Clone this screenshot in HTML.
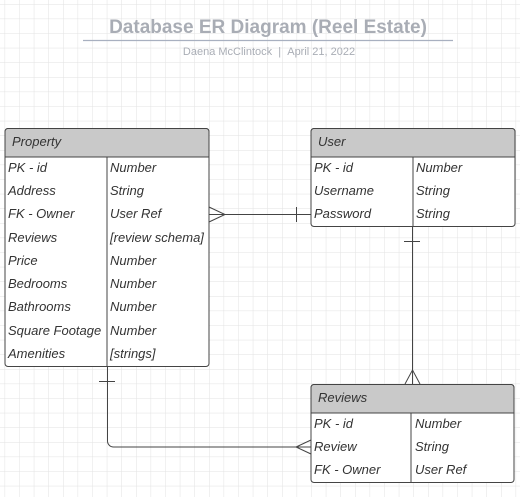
<!DOCTYPE html>
<html><head><style>
body{margin:0;width:520px;height:497px;overflow:hidden;background:#fff;font-family:"Liberation Sans",sans-serif;}
svg text{font-family:"Liberation Sans",sans-serif;}
</style></head><body>
<svg width="520" height="497" viewBox="0 0 520 497" xmlns="http://www.w3.org/2000/svg">
<defs>
<pattern id="g" x="4.6" y="4" width="14.6" height="14.6" patternUnits="userSpaceOnUse">
<path d="M0 0H14.6M0 0V14.6" stroke="#e2e2e2" stroke-width="1" fill="none"/>
</pattern>
</defs>
<rect width="520" height="497" fill="url(#g)"/>
<text x="268" y="33" text-anchor="middle" font-size="19" font-weight="bold" fill="#a9adb5">Database ER Diagram (Reel Estate)</text>
<line x1="83" y1="40.5" x2="453" y2="40.5" stroke="#a8b0c0" stroke-width="1.2"/>
<text x="269" y="55" text-anchor="middle" font-size="11" fill="#a9adb5">Daena McClintock&#160;&#160;|&#160;&#160;April 21, 2022</text>

<g font-style="italic" font-size="13" fill="#333">
<rect x="5" y="128.5" width="204" height="238" rx="3" fill="#fff" stroke="#444"/>
<path d="M5 157V131.5a3 3 0 0 1 3-3H206a3 3 0 0 1 3 3V157Z" fill="#c9c9c9" stroke="#444"/>
<line x1="107" y1="157" x2="107" y2="366" stroke="#444"/>
<text x="12" y="146">Property</text>
<text x="8" y="172">PK - id</text><text x="110" y="172">Number</text>
<text x="8" y="195">Address</text><text x="110" y="195">String</text>
<text x="8" y="218">FK - Owner</text><text x="110" y="218">User Ref</text>
<text x="8" y="242">Reviews</text><text x="110" y="242">[review schema]</text>
<text x="8" y="265">Price</text><text x="110" y="265">Number</text>
<text x="8" y="288">Bedrooms</text><text x="110" y="288">Number</text>
<text x="8" y="311">Bathrooms</text><text x="110" y="311">Number</text>
<text x="8" y="335">Square Footage</text><text x="110" y="335">Number</text>
<text x="8" y="358">Amenities</text><text x="110" y="358">[strings]</text>

<rect x="311" y="128.5" width="204" height="98" rx="3" fill="#fff" stroke="#444"/>
<path d="M311 157V131.5a3 3 0 0 1 3-3H512a3 3 0 0 1 3 3V157Z" fill="#c9c9c9" stroke="#444"/>
<line x1="413" y1="157" x2="413" y2="226" stroke="#444"/>
<text x="318" y="146">User</text>
<text x="314" y="172">PK - id</text><text x="416" y="172">Number</text>
<text x="314" y="195">Username</text><text x="416" y="195">String</text>
<text x="314" y="218">Password</text><text x="416" y="218">String</text>

<rect x="311" y="384.5" width="203" height="98" rx="3" fill="#fff" stroke="#444"/>
<path d="M311 413V387.5a3 3 0 0 1 3-3H511a3 3 0 0 1 3 3V413Z" fill="#c9c9c9" stroke="#444"/>
<line x1="411" y1="413" x2="411" y2="482" stroke="#444"/>
<text x="318" y="402">Reviews</text>
<text x="314" y="428">PK - id</text><text x="415" y="428">Number</text>
<text x="314" y="451">Review</text><text x="415" y="451">String</text>
<text x="314" y="474">FK - Owner</text><text x="415" y="474">User Ref</text>
</g>

<g stroke="#444" stroke-width="1" fill="none">
<path d="M209 214.5H311"/>
<path d="M209 207L225 214.5L209 222"/>
<path d="M296.5 207V222"/>
<path d="M412.5 226V384"/>
<path d="M404 241.5H420"/>
<path d="M405 384L412.5 370L420 384"/>
<path d="M107.5 366V441a6 6 0 0 0 6 6H311"/>
<path d="M99 381.5H115"/>
<path d="M311 440L296 447L311 454"/>
</g>
</svg>
</body></html>
